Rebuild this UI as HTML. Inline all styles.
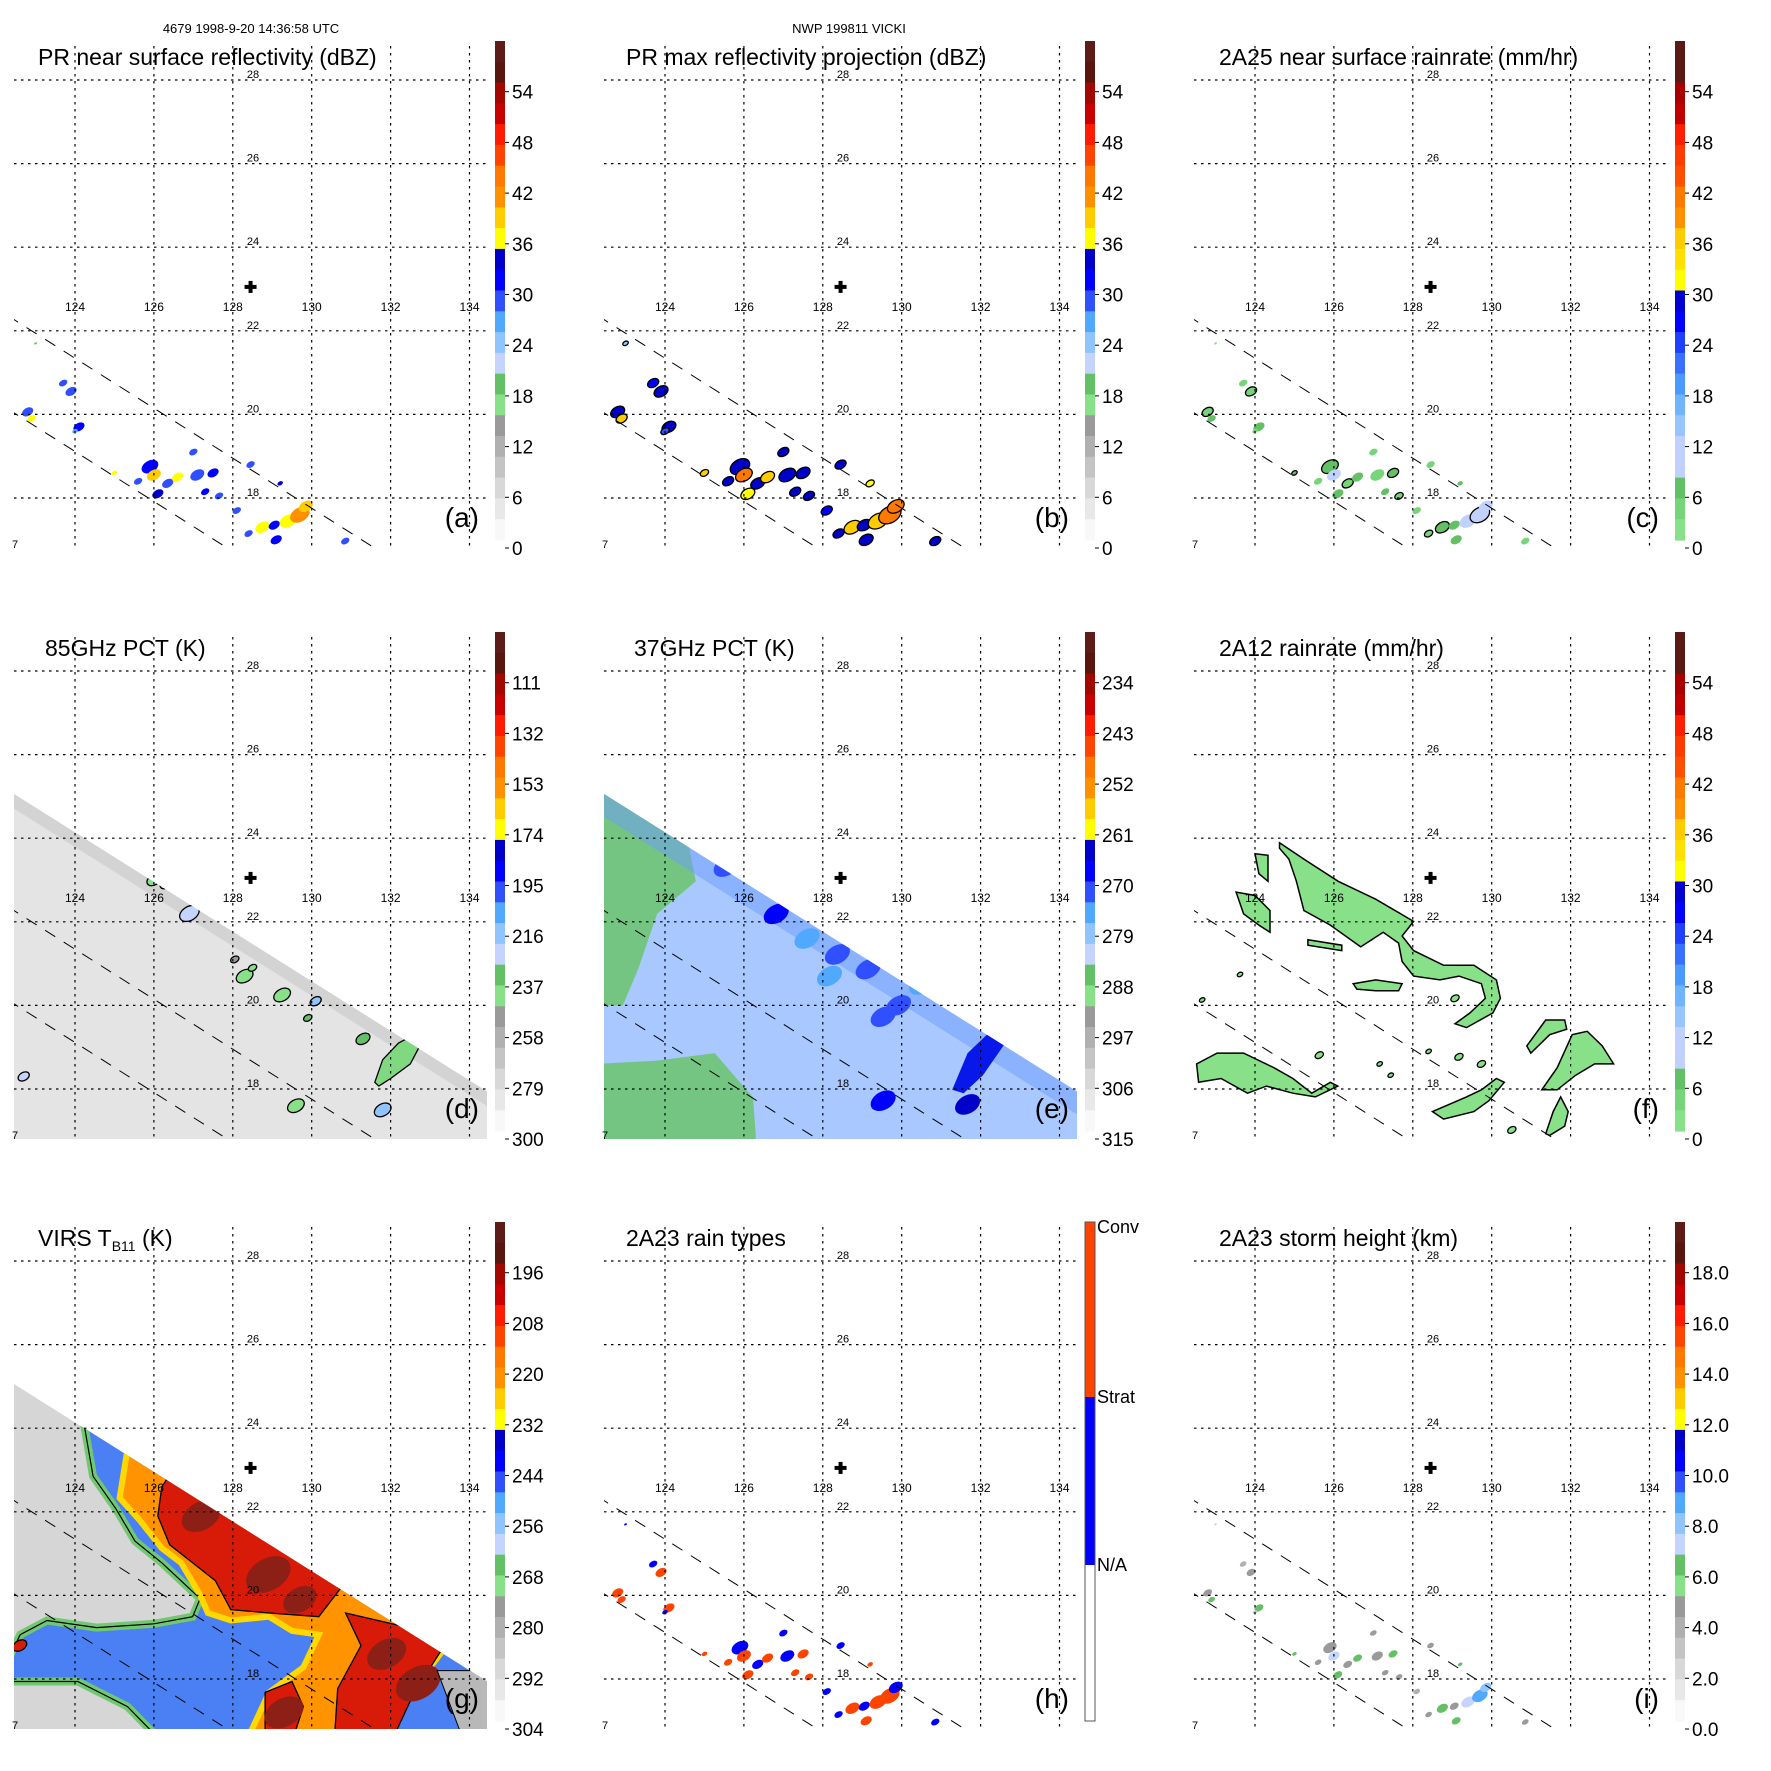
<!DOCTYPE html>
<html><head><meta charset="utf-8"><style>
html,body{margin:0;padding:0;background:#fff;}
svg{display:block;font-family:"Liberation Sans",sans-serif;}
</style></head><body>
<svg id="chart" width="1771" height="1771" viewBox="0 0 1771 1771" xmlns="http://www.w3.org/2000/svg">
<rect x="0" y="0" width="1771" height="1771" fill="#fff"/>
<defs id="defs">
<clipPath id="plotClip" clipPathUnits="userSpaceOnUse"><rect x="14" y="40" width="473" height="508"/></clipPath>
</defs>
<text x="251" y="33" font-size="13" text-anchor="middle">4679 1998-9-20 14:36:58 UTC</text>
<text x="849" y="33" font-size="13" text-anchor="middle">NWP 199811 VICKI</text>
</svg>
<script>
// ---------- data ----------
const LAT_TICKS = [28, 26, 24, 22, 20, 18];
const LON_TICKS = [124, 126, 128, 130, 132, 134];
const LBL_DBZ = ['54','48','42','36','30','24','18','12','6','0'];
const LBL_85 = ['111','132','153','174','195','216','237','258','279','300'];
const LBL_37 = ['234','243','252','261','270','279','288','297','306','315'];
const LBL_VIRS = ['196','208','220','232','244','256','268','280','292','304'];
const LBL_HGT = ['18.0','16.0','14.0','12.0','10.0','8.0','6.0','4.0','2.0','0.0'];
const CENTER = [128.45, 23.05];
// PR echo cells
const prLon = [122.8,122.9,123.7,123.9,124.1,124.0,125.9,126.0,126.1,126.35,126.6,127.1,127.5,127.0,127.3,127.65,128.1,128.45,128.75,129.05,129.4,129.7,129.85,129.1,128.4,130.85,129.2,125.0,125.6,123.0];
const prLat = [20.06,19.9,20.75,20.55,19.7,19.6,18.75,18.55,18.1,18.35,18.5,18.55,18.6,19.1,18.15,18.05,17.7,18.8,17.3,17.35,17.45,17.6,17.8,17.0,17.15,16.97,18.35,18.6,18.4,21.7];
const prSize = [4,3,3,4,4,2,6,5,4,4,4,5,4,3,3,3,3,3,5,4,6,7,5,4,3,3,2,2,3,1];
const prDbz = [30,36,28,30,32,26,32,40,34,30,36,30,32,30,32,30,28,30,36,32,36,42,40,32,30,30,34,36,30,20];
const prRain = [5,6,4,5,6,3,6,9,6,5,7,5,6,5,6,5,4,5,7,6,8,12,10,6,5,5,6,7,5,2];
const prType = [2,2,1,2,2,1,1,2,2,1,2,1,2,1,2,2,1,1,2,1,2,2,1,2,1,1,2,2,2,1];
const prHgt = [5,6,4,5,6,3,5,7,6,5,6,5,6,5,5,5,4,5,6,5,7,9,8,6,5,5,6,6,5,3];
// 85 GHz scattering cells
const d85Lon = [126.9,126.0,126.3,128.05,128.3,128.5,129.25,130.1,129.9,131.3,129.6,131.8,122.7];
const d85Lat = [22.2,23.0,22.9,21.1,20.7,20.9,20.25,20.1,19.7,19.2,17.6,17.5,18.3];
const d85Size = [7,5,4,3,6,3,6,4,3,5,6,6,4];
const d85Val = [225,240,240,250,240,245,240,215,230,230,240,220,225];
const d85Patch = [[131.6,18.16],[131.8,18.7],[132.2,19.1],[132.6,19.3],[132.75,19.05],[132.5,18.6],[132.0,18.25],[131.7,18.07]];
// 37 GHz regions
const e37Green1 = [[122.3,25.3],[123.61,24.46],[124.58,23.94],[124.78,22.97],[123.8,22.19],[123.32,20.87],[122.93,20.0],[122.3,20.0]];
const e37Green2 = [[122.3,18.6],[123.8,18.68],[125.26,18.86],[126.23,17.8],[126.33,16.5],[122.3,16.5]];
const e37Dark = [[131.28,17.98],[131.67,18.86],[132.25,19.38],[132.64,19.12],[132.06,18.33],[131.57,17.9]];
const e37CellLon = [126.82,128.37,129.15,129.92,129.53,125.55,129.53,131.67,128.17,127.6,130.5];
const e37CellLat = [22.19,21.22,20.87,20.0,19.73,23.32,17.72,17.63,20.7,21.6,20.5];
const e37CellVal = [268,272,270,270,272,272,268,266,274,276,274];
// 2A12 rain areas
const fPolys = [
 [[124.62,23.89],[125.24,23.5],[126.11,22.97],[127.06,22.54],[128.02,22.01],[127.73,21.66],[128.02,21.31],[128.78,20.96],[129.55,20.96],[130.12,20.61],[130.22,20.17],[130.03,19.82],[129.36,19.47],[129.07,19.56],[129.45,19.82],[129.84,20.17],[129.74,20.52],[129.17,20.7],[128.69,20.61],[128.02,20.7],[127.73,21.05],[127.64,21.49],[127.25,21.75],[126.68,21.4],[125.91,21.92],[125.24,22.27],[125.05,22.97],[124.86,23.5],[124.62,23.76]],
 [[123.52,22.71],[124,22.63],[124.38,22.27],[124.38,21.75],[124.1,21.92],[123.71,22.19]],
 [[124,23.63],[124.33,23.59],[124.33,22.97],[124.1,23.15]],
 [[122.52,18.6],[123.04,18.86],[123.71,18.86],[124.48,18.51],[124.96,18.25],[125.44,17.9],[125.91,18.16],[126.1,18.07],[125.53,17.81],[124.96,17.9],[124.29,18.07],[123.81,17.9],[123.14,18.25],[122.57,18.16]],
 [[130.89,19.03],[131.37,19.65],[131.85,19.65],[131.9,19.43],[131.47,19.3],[130.99,18.86]],
 [[131.27,17.98],[131.66,18.51],[132.04,19.3],[132.42,19.38],[132.8,19.03],[133.09,18.6],[132.61,18.6],[132.13,18.33],[131.66,17.98]],
 [[128.5,17.46],[129.36,17.81],[129.74,17.98],[130.12,18.25],[130.32,18.16],[129.93,17.72],[129.55,17.46],[128.78,17.28]],
 [[131.37,16.93],[131.56,17.46],[131.75,17.81],[131.94,17.46],[131.85,17.11],[131.47,16.89]],
 [[126.49,20.52],[127.06,20.61],[127.73,20.52],[127.64,20.35],[127.06,20.35],[126.58,20.39]],
 [[125.34,21.57],[126.2,21.44],[126.2,21.31],[125.34,21.44]]
];
const fCellLon = [125.63,129.07,129.17,123.62,122.66,130.51,127.16,127.44,128.4,129.74];
const fCellLat = [18.81,20.17,18.77,20.74,20.13,17.02,18.6,18.33,18.9,18.6];
const fCellRain = [3,3,3,2,2,3,2,2,2,3];
// VIRS cloud regions
const gBlue = [[124.21,24.2],[124.46,22.85],[125.04,22.07],[125.52,21.3],[126.2,20.78],[126.69,20.35],[127.17,19.92],[126.98,19.49],[126.0,19.32],[124.55,19.23],[123.29,19.4],[122.61,19.06],[122.3,18.46],[122.3,17.94],[124.07,17.94],[125.33,17.34],[126.2,16.5],[134.8,16.5],[134.8,20],[124.21,26.5]];
const gOrange = [[125.33,23.5],[131.5,20.5],[133.5,18.9],[132.8,18.03],[132.31,17.34],[131.83,16.5],[128.34,16.5],[128.92,17.68],[129.79,18.28],[130.18,19.06],[129.5,19.15],[128.92,19.49],[127.95,19.4],[127.37,19.58],[127.17,20.01],[126.69,20.78],[126.2,21.13],[125.62,21.82],[125.13,22.33]];
const gRed = [
 [[126.2,22.59],[126.6,23.2],[131,20.5],[130.18,19.49],[128.92,19.58],[127.95,19.66],[127.56,20.35],[126.98,20.78],[126.4,21.21],[126.1,21.9]],
 [[130.86,19.58],[133.5,19.0],[132.6,17.68],[132.02,16.5],[130.57,16.5],[130.66,17.77],[131.25,18.8]],
 [[128.82,17.68],[129.5,17.94],[129.79,17.34],[129.5,16.5],[128.82,16.5]]
];
const gGray = [[133.18,18.2],[134.8,18.2],[134.8,16.5],[133.86,16.5]];
const gDarkLon = [127.2,128.9,129.7,131.9,132.7,129.3];
const gDarkLat = [21.9,20.5,19.9,18.6,17.9,17.2];
const gDarkSize = [14,16,12,14,16,14];
// ---------- helpers ----------
const SVGNS = 'http://www.w3.org/2000/svg';
const root = document.getElementById('chart');
function X(lon){ return 75 + (lon - 124) * 39.45; }
function Y(lat){ return 80 + (28 - lat) * 41.8; }
function mk(tag, attrs, parent){
  const e = document.createElementNS(SVGNS, tag);
  for (const k in attrs) e.setAttribute(k, attrs[k]);
  parent.appendChild(e);
  return e;
}
function pts(poly){ return poly.map(p => X(p[0]).toFixed(1) + ',' + Y(p[1]).toFixed(1)).join(' '); }
const STD = ['#5c1c17','#58160f','#a00800','#c80000','#ff1c00','#ff4400','#ff7800','#ff9000','#ffcc00','#ffff00','#0000c8','#0000ff','#3050ff','#50a8ff','#90c4ff','#c4d4ff','#64c064','#88e088','#9a9a9a','#b0b0b0','#c4c4c4','#d8d8d8','#e8e8e8','#f8f8f8'];
const RAIN = ['#5a1a15','#5a1a15','#a80000','#c00000','#ff2000','#ff3c00','#ff5000','#ff7a00','#ff9000','#ffcc00','#ffe000','#ffff00','#0000d0','#0000ff','#2040ff','#3a70ff','#4a9aff','#70b4ff','#98c4ff','#c0d0ff','#c0d0ff','#64c064','#78d478','#88e088'];
function colorStd(frac){ return STD[Math.max(0, Math.min(23, Math.floor(frac * 24)))]; }
function colorRain(frac){ return RAIN[Math.max(0, Math.min(23, Math.floor(frac * 24)))]; }
const CB_TOP = 41, CB_BOT = 540, CB_X = 495;
const COLS = [0, 590, 1180], ROWS = [0, 591, 1181];
const SWATH = [[122.3,25.15],[134.6,17.85],[134.6,16.0],[122.3,16.0]];

const defs = document.getElementById('defs');
const sc = mk('clipPath', {id:'swathClip', clipPathUnits:'userSpaceOnUse'}, defs);


const scp = mk('polygon', {points:pts(SWATH)}, sc);



function drawColorbar(g, kind, labels){
  const cb = mk('g', {}, g);
  
  
  const h = (CB_BOT - CB_TOP) / 24;
  for (let i = 0; i < 24; i++){
    const c = kind === 'rain' ? RAIN[i] : STD[i];
    const r = mk('rect', {x:CB_X, y:(CB_TOP + i*h).toFixed(2), width:10, height:(h+0.6).toFixed(2), fill:c}, cb);
    
    
  }
  labels.forEach((t, i) => {
    const y = CB_TOP + (i + 1) * 50.7;
    const tk = mk('line', {x1:CB_X+10, x2:CB_X+14, y1:y, y2:y, stroke:'#000', 'stroke-width':1}, cb);
    
    
    const tx = mk('text', {x:CB_X+17, y:y + 7, 'font-size':19}, cb);
    
    
    tx.textContent = t;
  });
}
function drawTypeColorbar(g){
  const cb = mk('g', {}, g);
  
  
  const segs = [[41,216,'#ff4400'],[216,384,'#0000ff'],[384,540,'#ffffff']];
  segs.forEach(s => {
    const r = mk('rect', {x:CB_X, y:s[0], width:10, height:s[1]-s[0], fill:s[2]}, cb);
    
    
  });
  const o = mk('rect', {x:CB_X, y:41, width:10, height:499, fill:'none', stroke:'#555', 'stroke-width':1}, cb);
  
  
  [['Conv',52],['Strat',222],['N/A',390]].forEach(l => {
    const t = mk('text', {x:CB_X+12, y:l[1], 'font-size':18}, cb);
    
    
    t.textContent = l[0];
  });
}
function drawGrid(g){
  const gr = mk('g', {'clip-path':'url(#plotClip)'}, g);
  
  
  LAT_TICKS.forEach(lat => {
    const l = mk('line', {x1:14, x2:489, y1:Y(lat), y2:Y(lat), stroke:'#000', 'stroke-width':1.2, 'stroke-dasharray':'2.5,4.5'}, gr);
    
    
  });
  LON_TICKS.forEach(lon => {
    const l = mk('line', {x1:X(lon), x2:X(lon), y1:46, y2:550, stroke:'#000', 'stroke-width':1.2, 'stroke-dasharray':'2.5,4.5'}, gr);
    
    
  });
  const sw = [[[122.3,22.36],[131.6,16.8]],[[122.3,20.13],[128.0,16.72]]];
  sw.forEach(s => {
    const l = mk('line', {x1:X(s[0][0]), y1:Y(s[0][1]), x2:X(s[1][0]), y2:Y(s[1][1]), stroke:'#000', 'stroke-width':1, 'stroke-dasharray':'12,10'}, gr);
    
    
  });
  LAT_TICKS.forEach(lat => {
    const t = mk('text', {x:253, y:Y(lat) - 2, 'font-size':11, 'text-anchor':'middle'}, g);
    
    
    t.textContent = lat;
  });
  LON_TICKS.forEach(lon => {
    const t = mk('text', {x:X(lon), y:311, 'font-size':12, 'text-anchor':'middle'}, g);
    
    
    t.textContent = lon;
  });
  const cx = X(CENTER[0]), cy = Y(CENTER[1]);
  const c1 = mk('rect', {x:cx-6, y:cy-2, width:12, height:4, fill:'#000'}, g);
  
  
  const c2 = mk('rect', {x:cx-2, y:cy-6, width:4, height:12, fill:'#000'}, g);
  
  
  const s7 = mk('text', {x:12, y:548, 'font-size':11}, g);
  
  
  s7.textContent = '7';
}
function poly(parent, p, attrs, name){
  const a = Object.assign({points:pts(p)}, attrs);
  const e = mk('polygon', a, parent);
  
  
  return e;
}
function cell(parent, lon, lat, r, fill, stroke, name){
  const e = mk('ellipse', {cx:X(lon), cy:Y(lat), rx:r*1.5, ry:r, fill:fill, stroke:stroke||'none', 'stroke-width':1.3, transform:'rotate(-30 ' + X(lon) + ' ' + Y(lat) + ')'}, parent);
  
  
  return e;
}
function dataLayer(g, swath){
  const d = mk('g', {'clip-path':'url(#plotClip)'}, g);
  
  
  if (!swath) return d;
  const d2 = mk('g', {'clip-path':'url(#swathClip)'}, d);
  
  
  return d2;
}
// ---------- panel content ----------
const content = {
  a(d){ prLon.forEach((lon,i)=>{ cell(d, lon, prLat[i], prSize[i], colorStd((60-prDbz[i])/60), null, 'reflectivity-cell'); }); },
  b(d){ prLon.forEach((lon,i)=>{ cell(d, lon, prLat[i], prSize[i]+1, colorStd((60-prDbz[i]-3)/60), '#000', 'max-reflectivity-cell'); }); },
  c(d){ prLon.forEach((lon,i)=>{ cell(d, lon, prLat[i], prSize[i], colorRain((60-prRain[i])/60), i%3===0?'#000':null, 'rainrate-cell'); }); },
  d(d){
    poly(d, SWATH, {fill:'#e4e4e4'}, 'pct85-swath');
    poly(d, [[122.3,25.15],[134.6,17.85],[134.6,17.5],[122.3,24.8]], {fill:'#cccccc', opacity:0.7}, 'pct85-edge-band');
    poly(d, d85Patch, {fill:'#80d880', stroke:'#000', 'stroke-width':1.3}, 'pct85-scattering-patch');
    d85Lon.forEach((lon,i)=>{ cell(d, lon, d85Lat[i], d85Size[i], colorStd((d85Val[i]-90)/210), '#000', 'pct85-cell'); });
  },
  e(d){
    poly(d, SWATH, {fill:'#a8c8ff'}, 'pct37-swath');
    poly(d, e37Green1, {fill:'#6cc46c', opacity:0.85}, 'pct37-land-region');
    poly(d, e37Green2, {fill:'#6cc46c', opacity:0.85}, 'pct37-land-region');
    poly(d, [[122.3,25.15],[134.6,17.85],[134.6,17.3],[122.3,24.6]], {fill:'#6c9cff', opacity:0.5}, 'pct37-edge-band');
    e37CellLon.forEach((lon,i)=>{ cell(d, lon, e37CellLat[i], 9, colorStd((e37CellVal[i]-225)/90), null, 'pct37-cell'); });
    poly(d, e37Dark, {fill:'#0818e8'}, 'pct37-dark-region');
  },
  f(d){
    fPolys.forEach(p => poly(d, p, {fill:'#88e088', stroke:'#000', 'stroke-width':1.5}, 'rain-area'));
    fCellLon.forEach((lon,i)=>{ cell(d, lon, fCellLat[i], fCellRain[i], '#88e088', '#000', 'rain-cell'); });
  },
  g(d){
    poly(d, SWATH, {fill:'#d6d6d6'}, 'virs-swath');
    poly(d, gBlue, {fill:'#4a80f4', stroke:'#70c870', 'stroke-width':8}, 'virs-cold-cloud');
    poly(d, gBlue, {fill:'none', stroke:'#000', 'stroke-width':1.2}, 'virs-contour');
    poly(d, gOrange, {fill:'#ff9400', stroke:'#ffd800', 'stroke-width':6}, 'virs-very-cold-cloud');
    gRed.forEach(p => poly(d, p, {fill:'#d81a08', stroke:'#000', 'stroke-width':1.3}, 'virs-coldest-cloud'));
    gDarkLon.forEach((lon,i)=>{ cell(d, lon, gDarkLat[i], gDarkSize[i], '#8c2016', null, 'virs-cloud-top'); });
    poly(d, gGray, {fill:'#b8b8b8', stroke:'#000', 'stroke-width':1}, 'virs-warm-area');
    cell(d, 122.6, 18.8, 5, '#d81a08', '#000', 'virs-cloud-top');
  },
  h(d){ prLon.forEach((lon,i)=>{ cell(d, lon, prLat[i], prSize[i], prType[i]===2 ? '#ff4400' : '#0000ff', null, 'rain-type-cell'); }); },
  i(d){ prLon.forEach((lon,i)=>{ cell(d, lon, prLat[i], prSize[i]*0.8, colorStd((20-prHgt[i])/20), null, 'storm-height-cell'); }); }
};
const panels = [
  {k:'a', c:0, r:0, title:'PR near surface reflectivity (dBZ)', tx:38, cb:'std', labels:LBL_DBZ},
  {k:'b', c:1, r:0, title:'PR max reflectivity projection (dBZ)', tx:36, cb:'std', labels:LBL_DBZ},
  {k:'c', c:2, r:0, title:'2A25 near surface rainrate (mm/hr)', tx:39, cb:'rain', labels:LBL_DBZ},
  {k:'d', c:0, r:1, title:'85GHz PCT (K)', tx:45, cb:'std', labels:LBL_85},
  {k:'e', c:1, r:1, title:'37GHz PCT (K)', tx:44, cb:'std', labels:LBL_37},
  {k:'f', c:2, r:1, title:'2A12 rainrate (mm/hr)', tx:39, cb:'rain', labels:LBL_DBZ},
  {k:'g', c:0, r:2, title:'VIRS', tx:38, cb:'std', labels:LBL_VIRS},
  {k:'h', c:1, r:2, title:'2A23 rain types', tx:36, cb:'type', labels:[]},
  {k:'i', c:2, r:2, title:'2A23 storm height (km)', tx:39, cb:'std', labels:LBL_HGT}
];
panels.forEach(p => {
  const g = mk('g', {transform:'translate(' + COLS[p.c] + ',' + ROWS[p.r] + ')'}, root);
  
  
  const d = dataLayer(g, p.k === 'd' || p.k === 'e' || p.k === 'g');
  content[p.k](d);
  drawGrid(g);
  if (p.cb === 'type') drawTypeColorbar(g); else drawColorbar(g, p.cb, p.labels);
  const t = mk('text', {x:p.tx, y:65, 'font-size':23}, g);
  
  
  if (p.k === 'g'){
    t.textContent = 'VIRS T';
    const s = mk('tspan', {'font-size':14, dy:5}, t);
    
    
    s.textContent = 'B11';
    const s2 = mk('tspan', {dy:-5}, t);
    
    
    s2.textContent = ' (K)';
  } else t.textContent = p.title;
  const L = mk('text', {x:479, y:527, 'font-size':28, 'text-anchor':'end'}, g);
  
  
  L.textContent = '(' + p.k + ')';
});
</script>
</body></html>
